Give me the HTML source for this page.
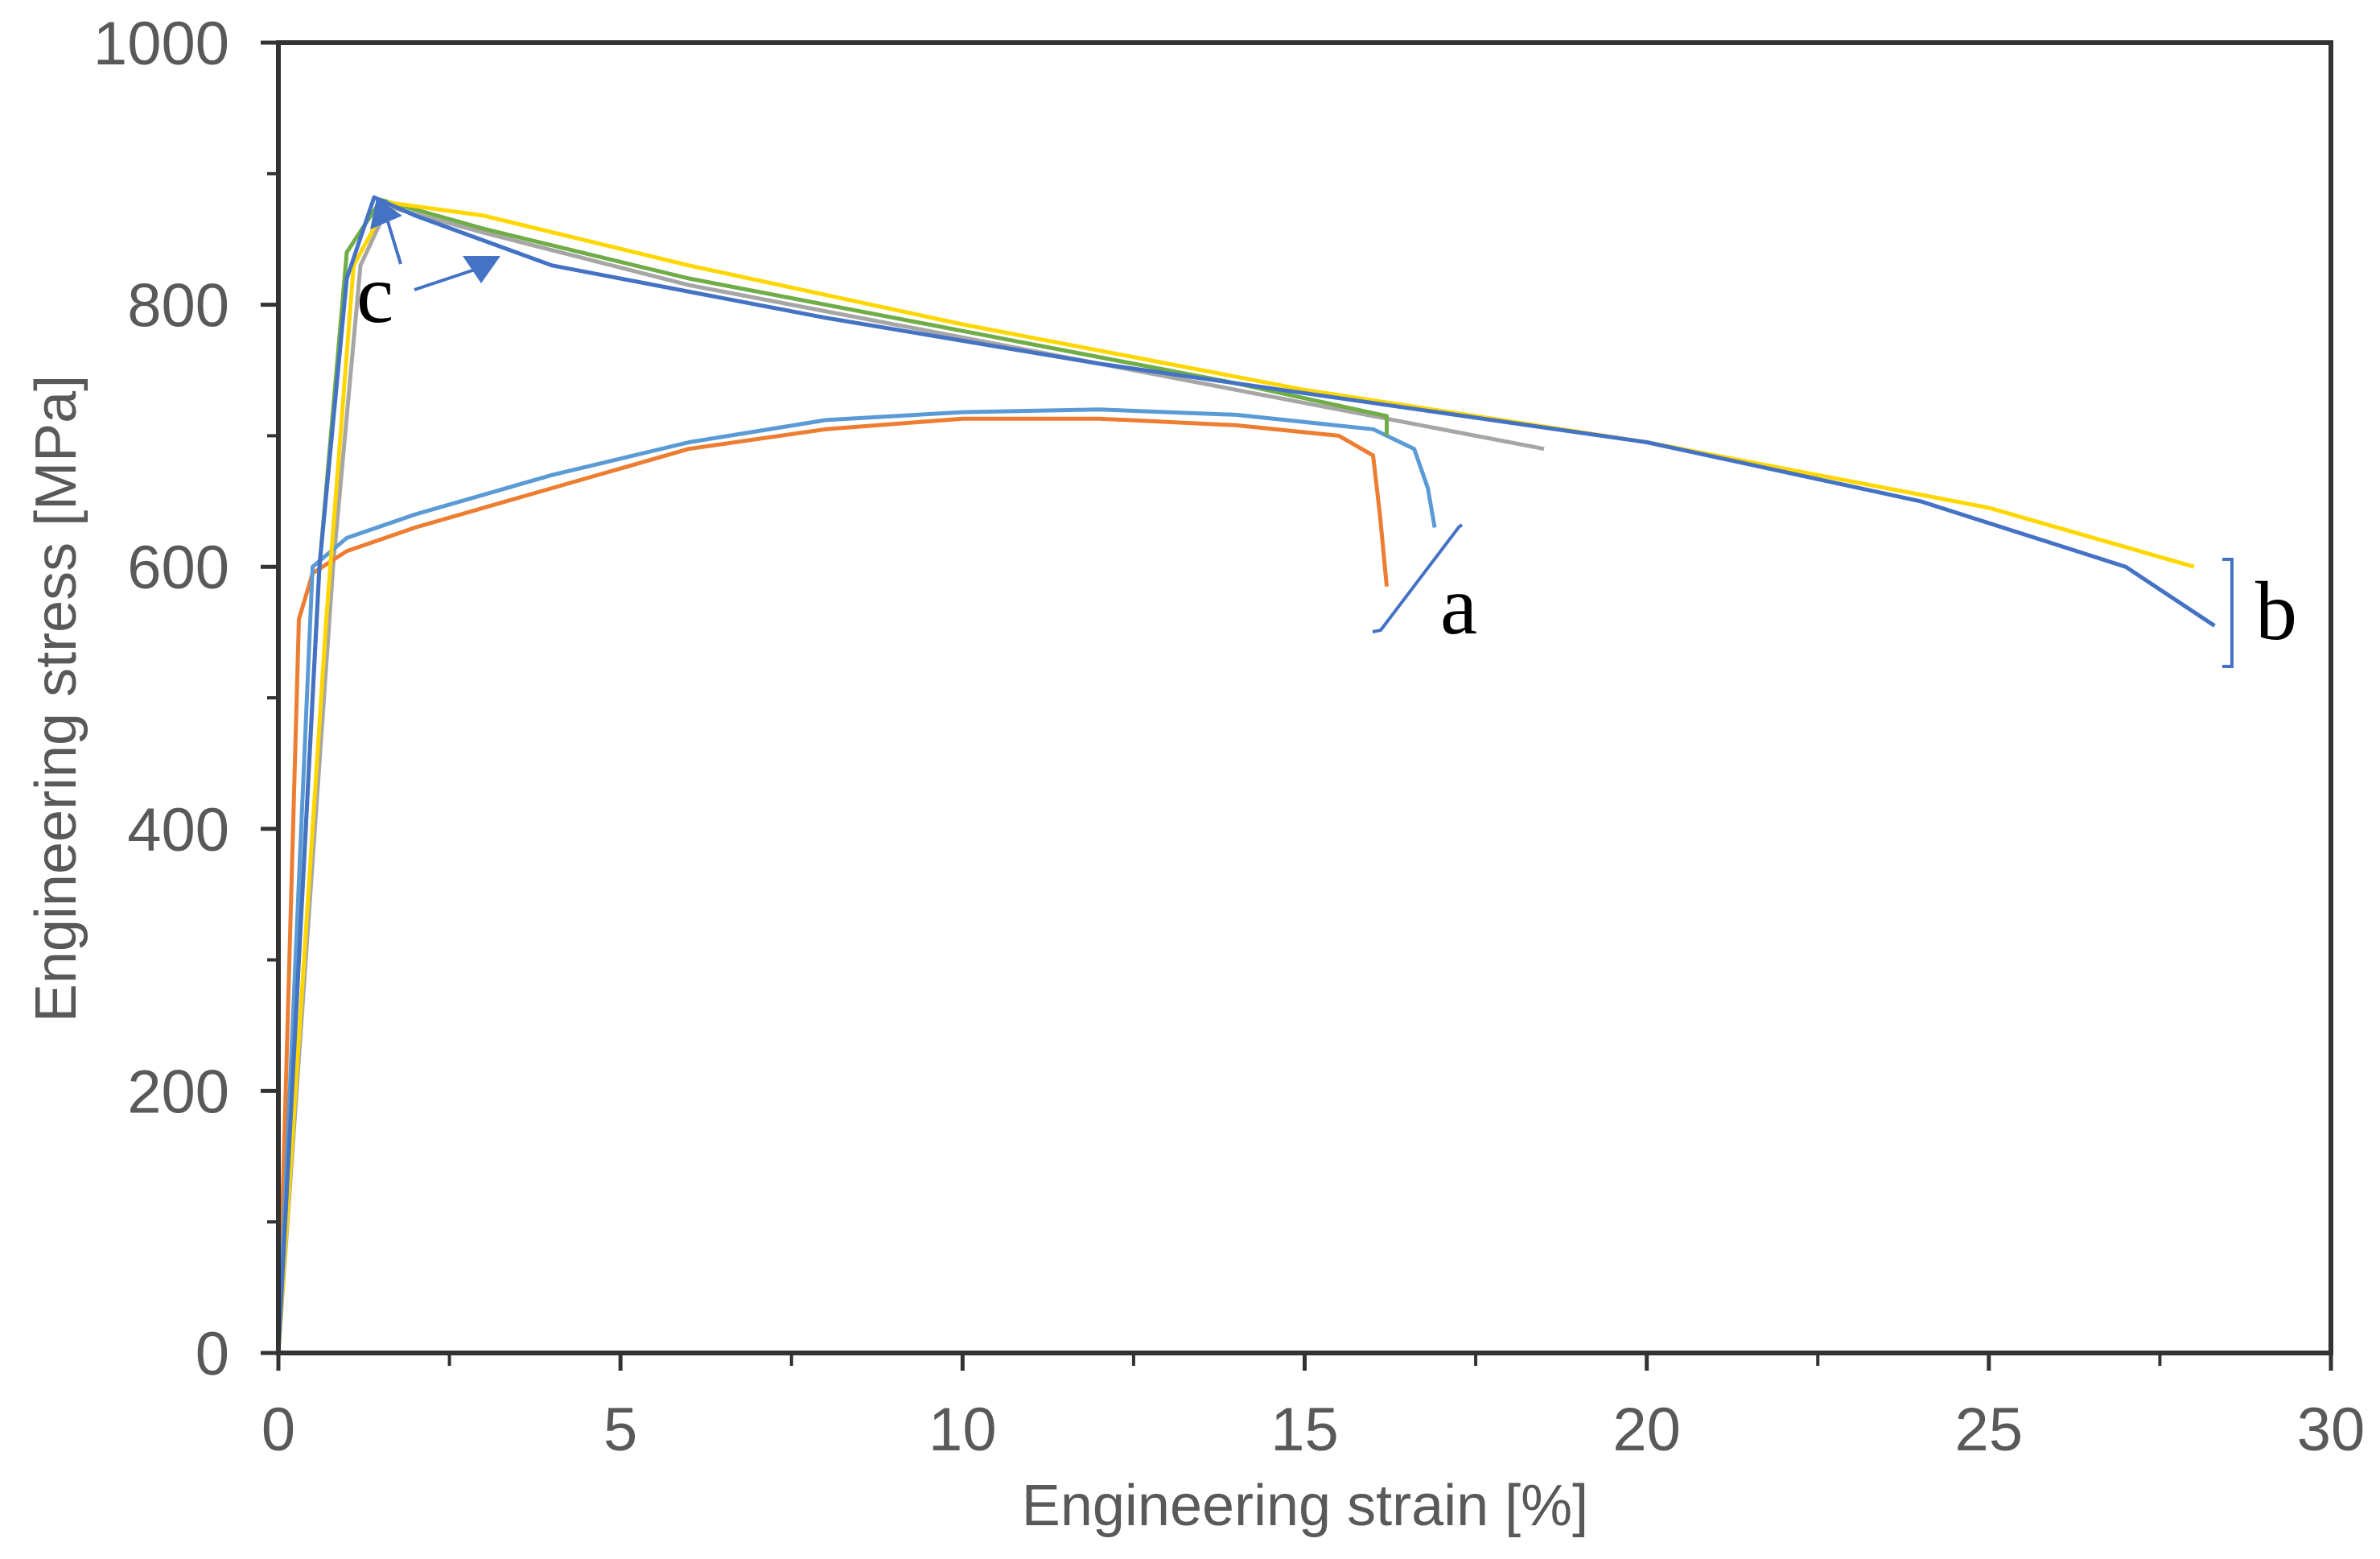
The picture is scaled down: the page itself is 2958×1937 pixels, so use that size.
<!DOCTYPE html>
<html><head><meta charset="utf-8"><style>
html,body{margin:0;padding:0;background:#fff;width:2958px;height:1937px;overflow:hidden}
svg{display:block}
</style></head><body>
<svg id="chart" width="2958" height="1937" viewBox="0 0 2958 1937" xmlns="http://www.w3.org/2000/svg">
<g id="curves"></g>
<g id="axes"></g>
<g id="annot"></g>
</svg>
<script>
const xTicks=[0,5,10,15,20,25,30];
const xMinor=[2.5,7.5,12.5,17.5,22.5,27.5];
const yTicks=[0,200,400,600,800,1000];
const yMinor=[100,300,500,700,900];
const orangeX=[0,0.3,0.5,1,2,4,6,8,10,12,14,15.5,16,16.1,16.2];
const orangeY=[0,560,595,612,630,660,690,705,713,713,708,700,685,640,585];
const lightBlueX=[0,0.5,1,2,4,6,8,10,12,14,16,16.6,16.8,16.9];
const lightBlueY=[0,600,622,640,670,695,712,718,720,716,705,690,660,630];
const blueX=[0,0.6,1,1.4,2,4,8,12,16,20,24,27,28.3];
const blueY=[0,600,820,882,868,830,790,755,725,695,650,600,555];
const yellowX=[0,0.7,1.1,1.6,3,6,10,15,20,25,28];
const yellowY=[0,560,830,878,868,830,785,735,695,645,600];
const grayX=[0,0.8,1.2,1.6,3,6,10,14,18.5];
const grayY=[0,600,830,875,855,815,775,735,690];
const greenX=[0,0.6,1,1.5,3,6,10,14,16.2,16.2];
const greenY=[0,600,840,880,858,820,780,740,715,700];
const seriesList=[
 ['curve-gray',grayX,grayY,'#a6a6a6'],
 ['curve-orange',orangeX,orangeY,'#ed7d31'],
 ['curve-light-blue',lightBlueX,lightBlueY,'#5b9bd5'],
 ['curve-green',greenX,greenY,'#70ad47'],
 ['curve-yellow',yellowX,yellowY,'#ffd700'],
 ['curve-blue',blueX,blueY,'#4472c4']
];
const X0=346,X1=2897,Y0=1681,Y1=53;
const sx=v=>X0+(X1-X0)*v/30;
const sy=v=>Y0-(Y0-Y1)*v/1000;
const NS='http://www.w3.org/2000/svg';
function mk(tag,attrs,parent){const e=document.createElementNS(NS,tag);for(const k in attrs)e.setAttribute(k,attrs[k]);parent.appendChild(e);return e;}
const curves=document.getElementById('curves');
seriesList.forEach(s=>{
 const d=s[1].map((x,i)=>(i?'L':'M')+sx(x).toFixed(1)+','+sy(s[2][i]).toFixed(1)).join('');
 const p=mk('path',{d:d,fill:'none',stroke:s[3],'stroke-width':5,'stroke-linejoin':'round'},curves);
 
 
});
const axes=document.getElementById('axes');
const frame=mk('rect',{x:X0,y:Y1,width:X1-X0,height:Y0-Y1,fill:'none',stroke:'#333','stroke-width':6},axes);


xTicks.forEach(v=>{
 const t=mk('line',{x1:sx(v),x2:sx(v),y1:Y0,y2:Y0+22,stroke:'#333','stroke-width':5},axes);
 
 
 const l=mk('text',{x:sx(v),y:1802,'text-anchor':'middle','font-family':'Liberation Sans, sans-serif','font-size':76,fill:'#595959'},axes);
 l.textContent=v;
 
 
});
xMinor.forEach(v=>{
 const t=mk('line',{x1:sx(v),x2:sx(v),y1:Y0,y2:Y0+16,stroke:'#333','stroke-width':4},axes);
 
 
});
yTicks.forEach(v=>{
 const t=mk('line',{x1:X0-22,x2:X0,y1:sy(v),y2:sy(v),stroke:'#333','stroke-width':5},axes);
 
 
 const l=mk('text',{x:285,y:sy(v)+27,'text-anchor':'end','font-family':'Liberation Sans, sans-serif','font-size':76,fill:'#595959'},axes);
 l.textContent=v;
 
 
});
yMinor.forEach(v=>{
 const t=mk('line',{x1:X0-14,x2:X0,y1:sy(v),y2:sy(v),stroke:'#333','stroke-width':4},axes);
 
 
});
const xt=mk('text',{x:1622,y:1895,'text-anchor':'middle','font-family':'Liberation Sans, sans-serif','font-size':72,fill:'#595959'},axes);
xt.textContent='Engineering strain [%]';


const yt=mk('text',{x:0,y:0,transform:'translate(94,868) rotate(-90)','text-anchor':'middle','font-family':'Liberation Sans, sans-serif','font-size':72,fill:'#595959'},axes);
yt.textContent='Engineering stress [MPa]';


const an=document.getElementById('annot');
const blue='#4472c4';
const a1=mk('line',{x1:498,y1:328,x2:478,y2:262,stroke:blue,'stroke-width':4},an);


const h1=mk('polygon',{points:'468,246 500,268 460,285',fill:blue},an);


const a2=mk('line',{x1:515,y1:360,x2:590,y2:335,stroke:blue,'stroke-width':4},an);


const h2=mk('polygon',{points:'575,318 622,318 598,352',fill:blue},an);


const tc=mk('text',{x:443,y:400,'font-family':'Liberation Serif, serif','font-size':104,fill:'#000'},an);
tc.textContent='c';


const ba=mk('path',{d:'M1706,785 L1716,783 L1813,655 L1817,652',fill:'none',stroke:blue,'stroke-width':4},an);


const ta=mk('text',{x:1790,y:787,'font-family':'Liberation Serif, serif','font-size':104,fill:'#000'},an);
ta.textContent='a';


const bb=mk('path',{d:'M2762,695 L2774,695 L2774,828 L2762,828',fill:'none',stroke:blue,'stroke-width':4},an);


const tb=mk('text',{x:2803,y:794,'font-family':'Liberation Serif, serif','font-size':104,fill:'#000'},an);
tb.textContent='b';


</script>
</body></html>
